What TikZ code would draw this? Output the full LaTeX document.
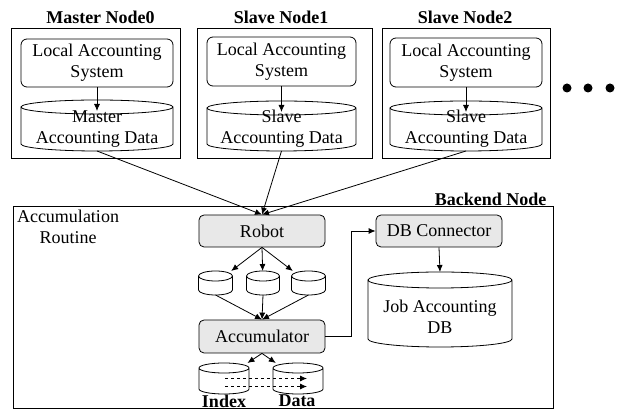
\documentclass[tikz,border=0pt]{standalone}
\usepackage{fontspec}
\setmainfont{Liberation Serif}
\usetikzlibrary{calc,arrows.meta}

\tikzset{
	hostbox/.style={draw, line width=1pt, inner sep=0pt},
	sysbox/.style={draw, rounded corners=6pt, line width=0.8pt, align=center, inner sep=0pt},
	procbox/.style={draw, rounded corners=5pt, line width=0.8pt, fill=gray!18, align=center, inner sep=0pt},
	dbcyl/.style={inner sep=0pt, outer sep=0pt},
	cylline/.style={draw, line width=0.8pt, fill=white},
	title/.style={font=\fontsize{18}{21}\selectfont\bfseries},
	arr/.style={-{Latex[length=7pt,width=6pt]}, line width=0.8pt},
}

% cylinder outline round a named node: #1 node, #2 depth of the end ellipses (pt)
\newcommand{\drawcyl}[2]{%
	\draw[cylline] let \p1=(#1.north west), \p2=(#1.south east), \n1={(\x2-\x1)/2} in
		([yshift=-#2pt]#1.north west) -- ([yshift=#2pt]#1.south west)
		arc[start angle=180, end angle=360, x radius=\n1, y radius=#2pt]
		-- ([yshift=-#2pt]#1.north east)
		arc[start angle=0, end angle=180, x radius=\n1, y radius=#2pt]
		arc[start angle=180, end angle=360, x radius=\n1, y radius=#2pt];
}

\begin{document}
\begin{tikzpicture}[x=1pt, y=-1pt, font=\fontsize{18}{21}\selectfont]
	\useasboundingbox (0,0) rectangle (625,419);

	% Host nodes
	\node[title] (tmaster) at (100.5,17) {Master Node0};
	\node[title] (tslave1) at (281,17) {Slave Node1};
	\node[title] (tslave2) at (465,17) {Slave Node2};
	\node[hostbox, minimum width=169, minimum height=130] (master) at (95.5,94) {};
	\node[hostbox, minimum width=175, minimum height=130] (slave1) at (284.5,94) {};
	\node[hostbox, minimum width=168, minimum height=130] (slave2) at (466,94) {};

	% Local accounting systems and their data
	\node[sysbox, minimum width=152, minimum height=48] (sys0) at (97,63) {Local Accounting\\System};
	\node[sysbox, minimum width=149, minimum height=49] (sys1) at (281.5,61.5) {Local Accounting\\System};
	\node[sysbox, minimum width=152, minimum height=49] (sys2) at (466,62.5) {Local Accounting\\System};
	\node[dbcyl, minimum width=152, minimum height=51] (data0) at (97,125.5) {};
	\node[dbcyl, minimum width=149, minimum height=50] (data1) at (281.5,126) {};
	\node[dbcyl, minimum width=152, minimum height=50] (data2) at (466,126) {};
	\drawcyl{data0}{7}
	\drawcyl{data1}{7}
	\drawcyl{data2}{7}
	\node[align=center] (dtxt0) at (97,129) {Master\\Accounting Data};
	\node[align=center] (dtxt1) at (281.5,129) {Slave\\Accounting Data};
	\node[align=center] (dtxt2) at (466,129) {Slave\\Accounting Data};
	\draw[arr] (sys0.south) -- ([yshift=-11pt]data0.north);
	\draw[arr] (sys1.south) -- ([yshift=-11pt]data1.north);
	\draw[arr] (sys2.south) -- ([yshift=-11pt]data2.north);

	% More nodes
	\node[circle, fill, inner sep=0pt, minimum size=9] (dot1) at (567,88) {};
	\node[circle, fill, inner sep=0pt, minimum size=9] (dot2) at (588,88) {};
	\node[circle, fill, inner sep=0pt, minimum size=9] (dot3) at (610,88) {};

	% Backend node
	\node[hostbox, minimum width=540, minimum height=202] (backend) at (283,308) {};
	\node[title, anchor=east] (tbackend) at (550,199) {Backend Node};
	\node[align=center] (routine) at (68,226.5) {Accumulation\\Routine};

	\node[procbox, minimum width=126, minimum height=32] (robot) at (262,231) {Robot};
	\node[dbcyl, minimum width=34, minimum height=24] (c1) at (215.5,283) {};
	\node[dbcyl, minimum width=33, minimum height=24] (c2) at (263,283) {};
	\node[dbcyl, minimum width=34, minimum height=24] (c3) at (308.5,283) {};
	\drawcyl{c1}{5}
	\drawcyl{c2}{5}
	\drawcyl{c3}{5}
	\node[procbox, minimum width=126, minimum height=33] (acc) at (262,336.5) {Accumulator};
	\node[dbcyl, minimum width=50, minimum height=31] (idx) at (224,378.5) {};
	\node[dbcyl, minimum width=50, minimum height=31] (dat) at (298,378.5) {};
	\drawcyl{idx}{5}
	\drawcyl{dat}{5}
	\node[title] (tidx) at (224,401) {Index};
	\node[title] (tdat) at (297,401) {Data};

	\node[procbox, minimum width=126, minimum height=32] (dbc) at (439,231) {DB Connector};
	\node[dbcyl, minimum width=144, minimum height=75] (jobdb) at (440,309.5) {};
	\drawcyl{jobdb}{8}
	\node[align=center] (jobtxt) at (440,317) {Job Accounting\\DB};

	% Connectors
	\draw[arr] (data0.south) -- (robot.north);
	\draw[arr] (data1.south) -- (robot.north);
	\draw[arr] (data2.south) -- (robot.north);
	\draw[arr] (robot.south) -- (c1);
	\draw[arr] (robot.south) -- (c2);
	\draw[arr] (robot.south) -- (c3);
	\draw[arr] (c1.south) -- (acc.north);
	\draw[arr] (c2.south) -- (acc.north);
	\draw[arr] (c3.south) -- (acc.north);
	\draw[arr] (acc.south) -- (idx);
	\draw[arr] (acc.south) -- (dat);
	\draw[arr, dashed] ([xshift=1pt,yshift=0pt]idx.center) -- ([xshift=9pt,yshift=0pt]dat.center);
	\draw[arr, dashed] ([xshift=1pt,yshift=-8pt]idx.center) -- ([xshift=9pt,yshift=-8pt]dat.center);
	\draw[arr] (acc.east) -- ++(26,0) |- (dbc.west);
	\draw[arr] (dbc.south) -- (jobdb.north);

\end{tikzpicture}
\end{document}
